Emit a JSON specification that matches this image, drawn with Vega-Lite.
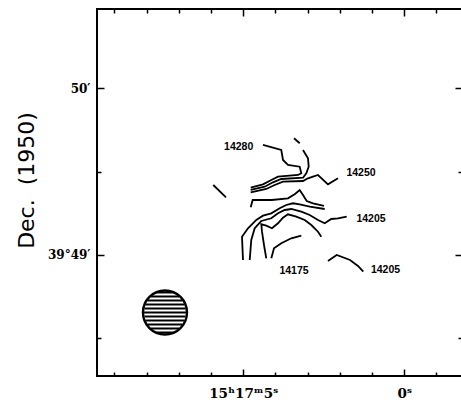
{
  "$schema": "https://vega.github.io/schema/vega-lite/v6.json",
  "width": 365,
  "height": 367,
  "autosize": {"type": "none"},
  "padding": {"left": 97, "top": 9, "right": 0, "bottom": 26},
  "background": "white",
  "config": {
    "view": {"stroke": "black", "strokeWidth": 2},
    "axis": {"domain": false, "grid": false, "tickColor": "black", "tickWidth": 1.5, "labelColor": "black", "titleColor": "black"}
  },
  "datasets": {
    "contours": [
      {"line": "c1", "i": 1, "x": 4.388, "y": 39.53},
      {"line": "c1", "i": 2, "x": 3.820, "y": 37.73},
      {"line": "c1", "i": 3, "x": 3.767, "y": 34.14},
      {"line": "c1", "i": 4, "x": 3.612, "y": 32.34},
      {"line": "c1", "i": 5, "x": 3.248, "y": 31.73},
      {"line": "c1", "i": 6, "x": 3.199, "y": 29.36},
      {"line": "c1", "i": 7, "x": 3.301, "y": 28.75},
      {"line": "c1", "i": 8, "x": 3.922, "y": 28.14},
      {"line": "c1", "i": 9, "x": 4.130, "y": 26.95},
      {"line": "c1", "i": 10, "x": 4.388, "y": 25.40},
      {"line": "c1", "i": 11, "x": 4.770, "y": 24.18},
      {"line": "c2", "i": 1, "x": 3.425, "y": 41.93},
      {"line": "c2", "i": 2, "x": 3.248, "y": 40.14},
      {"line": "c3", "i": 1, "x": 3.146, "y": 37.73},
      {"line": "c3", "i": 2, "x": 2.991, "y": 34.75},
      {"line": "c3", "i": 3, "x": 2.969, "y": 31.73},
      {"line": "c3", "i": 4, "x": 3.043, "y": 29.36},
      {"line": "c3", "i": 5, "x": 3.146, "y": 27.78},
      {"line": "c3", "i": 6, "x": 3.820, "y": 27.31},
      {"line": "c3", "i": 7, "x": 4.078, "y": 26.12},
      {"line": "c3", "i": 8, "x": 4.335, "y": 24.54},
      {"line": "c3", "i": 9, "x": 4.770, "y": 23.36},
      {"line": "c4", "i": 1, "x": 2.059, "y": 27.56},
      {"line": "c4", "i": 2, "x": 2.370, "y": 25.40},
      {"line": "c4", "i": 3, "x": 2.680, "y": 28.75},
      {"line": "c4", "i": 4, "x": 2.835, "y": 28.14},
      {"line": "c4", "i": 5, "x": 2.991, "y": 27.56},
      {"line": "c4", "i": 6, "x": 3.146, "y": 26.59},
      {"line": "c4", "i": 7, "x": 3.767, "y": 26.34},
      {"line": "c4", "i": 8, "x": 4.025, "y": 25.15},
      {"line": "c4", "i": 9, "x": 4.286, "y": 23.72},
      {"line": "c4", "i": 10, "x": 4.770, "y": 22.53},
      {"line": "c5", "i": 1, "x": 5.932, "y": 25.15},
      {"line": "c5", "i": 2, "x": 5.537, "y": 20.73},
      {"line": "c6", "i": 1, "x": 4.770, "y": 17.14},
      {"line": "c6", "i": 2, "x": 4.708, "y": 19.76},
      {"line": "c6", "i": 3, "x": 4.118, "y": 19.76},
      {"line": "c6", "i": 4, "x": 3.612, "y": 20.37},
      {"line": "c6", "i": 5, "x": 3.394, "y": 21.92},
      {"line": "c6", "i": 6, "x": 3.248, "y": 23.36},
      {"line": "c6", "i": 7, "x": 3.146, "y": 21.56},
      {"line": "c6", "i": 8, "x": 3.031, "y": 19.40},
      {"line": "c6", "i": 9, "x": 2.835, "y": 18.58},
      {"line": "c6", "i": 10, "x": 2.494, "y": 17.61},
      {"line": "c7", "i": 1, "x": 5.009, "y": -1.80},
      {"line": "c7", "i": 2, "x": 5.040, "y": 6.58},
      {"line": "c7", "i": 3, "x": 4.854, "y": 9.59},
      {"line": "c7", "i": 4, "x": 4.596, "y": 12.58},
      {"line": "c7", "i": 5, "x": 4.388, "y": 14.12},
      {"line": "c7", "i": 6, "x": 4.130, "y": 14.98},
      {"line": "c7", "i": 7, "x": 3.870, "y": 16.78},
      {"line": "c7", "i": 8, "x": 3.665, "y": 17.97},
      {"line": "c7", "i": 9, "x": 3.457, "y": 18.58},
      {"line": "c7", "i": 10, "x": 3.248, "y": 18.22},
      {"line": "c7", "i": 11, "x": 2.938, "y": 17.36},
      {"line": "c7", "i": 12, "x": 2.472, "y": 16.53},
      {"line": "c8", "i": 1, "x": 4.801, "y": -1.80},
      {"line": "c8", "i": 2, "x": 4.752, "y": 5.39},
      {"line": "c8", "i": 3, "x": 4.646, "y": 9.59},
      {"line": "c8", "i": 4, "x": 4.441, "y": 12.22},
      {"line": "c8", "i": 5, "x": 4.130, "y": 13.19},
      {"line": "c8", "i": 6, "x": 3.922, "y": 14.98},
      {"line": "c8", "i": 7, "x": 3.714, "y": 16.17},
      {"line": "c8", "i": 8, "x": 3.509, "y": 16.53},
      {"line": "c8", "i": 9, "x": 3.199, "y": 15.56},
      {"line": "c8", "i": 10, "x": 2.938, "y": 14.37},
      {"line": "c8", "i": 11, "x": 2.680, "y": 12.58},
      {"line": "c8", "i": 12, "x": 2.472, "y": 11.39},
      {"line": "c8", "i": 13, "x": 2.267, "y": 12.94},
      {"line": "c8", "i": 14, "x": 2.059, "y": 13.19},
      {"line": "c8", "i": 15, "x": 1.789, "y": 13.76},
      {"line": "c9", "i": 1, "x": 4.286, "y": -1.19},
      {"line": "c9", "i": 2, "x": 4.357, "y": 3.59},
      {"line": "c9", "i": 3, "x": 4.419, "y": 8.37},
      {"line": "c9", "i": 4, "x": 4.441, "y": 11.03},
      {"line": "c9", "i": 5, "x": 4.286, "y": 10.53},
      {"line": "c9", "i": 6, "x": 4.109, "y": 9.59},
      {"line": "c9", "i": 7, "x": 3.922, "y": 11.39},
      {"line": "c9", "i": 8, "x": 3.767, "y": 13.40},
      {"line": "c9", "i": 9, "x": 3.612, "y": 14.62},
      {"line": "c9", "i": 10, "x": 3.354, "y": 13.76},
      {"line": "c9", "i": 11, "x": 3.093, "y": 12.58},
      {"line": "c9", "i": 12, "x": 2.888, "y": 10.78},
      {"line": "c9", "i": 13, "x": 2.680, "y": 8.37},
      {"line": "c9", "i": 14, "x": 2.578, "y": 6.58},
      {"line": "c10", "i": 1, "x": 4.130, "y": -1.19},
      {"line": "c10", "i": 2, "x": 4.047, "y": 2.41},
      {"line": "c10", "i": 3, "x": 3.820, "y": 4.20},
      {"line": "c10", "i": 4, "x": 3.509, "y": 6.00},
      {"line": "c10", "i": 5, "x": 3.199, "y": 6.93},
      {"line": "c11", "i": 1, "x": 2.370, "y": -2.16},
      {"line": "c11", "i": 2, "x": 2.099, "y": 0.0},
      {"line": "c11", "i": 3, "x": 1.686, "y": -1.80},
      {"line": "c11", "i": 4, "x": 1.438, "y": -3.95},
      {"line": "c11", "i": 5, "x": 1.273, "y": -6.00}
    ],
    "labels": [
      {"x": 5.143, "y": 38.81, "text": "14280"},
      {"x": 1.345, "y": 29.46, "text": "14250"},
      {"x": 1.034, "y": 12.94, "text": "14205"},
      {"x": 3.425, "y": -5.75, "text": "14175"},
      {"x": 0.584, "y": -5.39, "text": "14205"}
    ],
    "hatch": [
      {"x": 7.703, "x2": 7.161, "y": -13.47},
      {"x": 7.878, "x2": 6.986, "y": -14.91},
      {"x": 7.976, "x2": 6.888, "y": -16.35},
      {"x": 8.037, "x2": 6.827, "y": -17.79},
      {"x": 8.070, "x2": 6.794, "y": -19.22},
      {"x": 8.081, "x2": 6.783, "y": -20.66},
      {"x": 8.070, "x2": 6.794, "y": -22.10},
      {"x": 8.037, "x2": 6.827, "y": -23.53},
      {"x": 7.976, "x2": 6.888, "y": -24.97},
      {"x": 7.878, "x2": 6.986, "y": -26.41},
      {"x": 7.703, "x2": 7.161, "y": -27.85}
    ],
    "beam": [
      {"x": 7.432, "y": -20.66}
    ]
  },
  "layer": [
    {
      "data": {"name": "contours"},
      "mark": {"type": "line", "color": "black", "strokeWidth": 1.8},
      "encoding": {
        "x": {"field": "x", "type": "quantitative",
          "scale": {"domain": [-1.792, 9.543], "reverse": true, "nice": false, "zero": false},
          "axis": {"orient": "bottom", "title": null, "values": [-1, 0, 1, 2, 3, 4, 5, 6, 7, 8, 9],
            "tickSize": {"condition": {"test": "datum.value % 5 === 0", "value": -7}, "value": -4},
            "labelExpr": "datum.value === 5 ? '15ʰ17ᵐ5ˢ' : (datum.value === 0 ? '0ˢ' : '')",
            "labelFont": "DejaVu Serif", "labelFontWeight": "bold", "labelFontSize": 13.5, "labelPadding": 17}},
        "y": {"field": "y", "type": "quantitative",
          "scale": {"domain": [-43.48, 88.39], "nice": false, "zero": false},
          "axis": {"orient": "left", "values": [-30, 0, 30, 60],
            "tickSize": {"condition": {"test": "datum.value % 60 === 0", "value": -7}, "value": -4},
            "labelExpr": "datum.value === 0 ? '39°49′' : (datum.value === 60 ? '50′' : '')",
            "labelFont": "DejaVu Serif", "labelFontWeight": "bold", "labelFontSize": 12, "labelPadding": 14,
            "title": "Dec.\u00a0\u00a0(1950)", "titleFont": "DejaVu Sans", "titleFontSize": 22, "titleFontWeight": "normal",
            "titleAngle": -90, "titleX": -71, "titleY": 171, "titleAlign": "center", "titleBaseline": "middle"}},
        "detail": {"field": "line"},
        "order": {"field": "i", "type": "quantitative"}
      }
    },
    {
      "data": {"name": "labels"},
      "mark": {"type": "text", "font": "Liberation Sans", "fontWeight": "bold", "fontSize": 10.5, "color": "black", "align": "center", "baseline": "middle"},
      "encoding": {
        "x": {"field": "x", "type": "quantitative",
          "axis": {"orient": "top", "title": null, "labels": false, "values": [-1, 0, 1, 2, 3, 4, 5, 6, 7, 8, 9],
            "tickSize": {"condition": {"test": "datum.value % 5 === 0", "value": -7}, "value": -4}}},
        "y": {"field": "y", "type": "quantitative",
          "axis": {"orient": "right", "title": null, "labels": false, "values": [-30, 0, 30, 60],
            "tickSize": {"condition": {"test": "datum.value % 60 === 0", "value": -7}, "value": -4}}},
        "text": {"field": "text"}
      }
    },
    {
      "data": {"name": "hatch"},
      "mark": {"type": "rule", "color": "black", "strokeWidth": 2},
      "encoding": {
        "x": {"field": "x", "type": "quantitative", "axis": null},
        "x2": {"field": "x2"},
        "y": {"field": "y", "type": "quantitative", "axis": null}
      }
    },
    {
      "data": {"name": "beam"},
      "mark": {"type": "point", "shape": "circle", "size": 1936, "filled": false, "stroke": "black", "strokeWidth": 2.4, "opacity": 1},
      "encoding": {
        "x": {"field": "x", "type": "quantitative", "axis": null},
        "y": {"field": "y", "type": "quantitative", "axis": null}
      }
    }
  ],
  "resolve": {"axis": {"x": "independent", "y": "independent"}}
}
